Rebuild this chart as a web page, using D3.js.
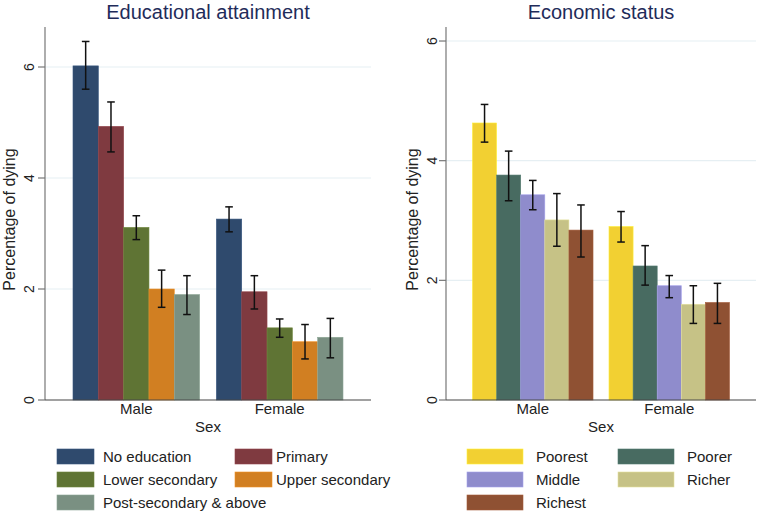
<!DOCTYPE html>
<html>
<head>
<meta charset="utf-8">
<script src="https://cdn.jsdelivr.net/npm/d3@7"></script>
<style>
  body { margin: 0; background: #fff; }
  svg { display: block; font-family: "Liberation Sans", Arial, sans-serif; }
</style>
</head>
<body>
<div id="chart"></div>
<script>
//data to display
const sexes = ['Male', 'Female'];

const eduLevels = ['No education', 'Primary', 'Lower secondary', 'Upper secondary', 'Post-secondary & above'];
const eduMale = [6.02, 4.93, 3.11, 2.00, 1.90];
const eduMaleLo = [5.60, 4.47, 2.89, 1.67, 1.54];
const eduMaleHi = [6.46, 5.37, 3.32, 2.34, 2.24];
const eduFemale = [3.26, 1.95, 1.30, 1.05, 1.13];
const eduFemaleLo = [3.03, 1.64, 1.13, 0.74, 0.76];
const eduFemaleHi = [3.48, 2.24, 1.46, 1.36, 1.47];

const ecoLevels = ['Poorest', 'Poorer', 'Middle', 'Richer', 'Richest'];
const ecoMale = [4.63, 3.76, 3.43, 3.01, 2.84];
const ecoMaleLo = [4.31, 3.33, 3.18, 2.57, 2.39];
const ecoMaleHi = [4.94, 4.16, 3.67, 3.45, 3.26];
const ecoFemale = [2.90, 2.24, 1.91, 1.60, 1.63];
const ecoFemaleLo = [2.64, 1.92, 1.71, 1.28, 1.28];
const ecoFemaleHi = [3.15, 2.58, 2.08, 1.91, 1.95];

const yTicks = [0, 2, 4, 6];

//Colors
const eduColors = ['#2f4a6d', '#7f3a40', '#5f7434', '#d17f22', '#7a9082'];
const ecoColors = ['#f2d032', '#486b61', '#8f8ccc', '#c6c286', '#8f5133'];
const titleColor = '#1f2c5a';
const gridColor = '#e6eff3';

//Main SVG
const svg = d3.select('#chart').append('svg')
    .attr('width', 761)
    .attr('height', 516);

drawPanel({
    title: 'Educational attainment',
    levels: eduLevels, colors: eduColors,
    vals: [eduMale, eduFemale], lo: [eduMaleLo, eduFemaleLo], hi: [eduMaleHi, eduFemaleHi],
    x0: 45, x1: 371, yTop: 400 - 6.6 * 55.5, yMax: 6.6,
    outer: 28, labelX: 9, tickX: 29,
    legend: {rectX: [57, 235], rectW: 37, textX: [103, 276]}
});

drawPanel({
    title: 'Economic status',
    levels: ecoLevels, colors: ecoColors,
    vals: [ecoMale, ecoFemale], lo: [ecoMaleLo, ecoFemaleLo], hi: [ecoMaleHi, ecoFemaleHi],
    x0: 446, x1: 756, yTop: 400 - 6.25 * 59.83, yMax: 6.25,
    outer: 26.5, labelX: 412, tickX: 432,
    legend: {rectX: [467, 618], rectW: 56, textX: [536, 687]}
});

function drawPanel(p) {
    const g = svg.append('g');
    const y = d3.scaleLinear().domain([0, p.yMax]).range([400, p.yTop]);

    const x = d3.scaleBand().domain(sexes)
        .range([p.x0 + p.outer, p.x1 - p.outer])
        .paddingInner(0.117).paddingOuter(0);
    const xi = d3.scaleBand().domain(p.levels).range([0, x.bandwidth()]);

    // gridlines
    g.selectAll('.grid').data(yTicks.filter(d => d > 0)).enter().append('line')
        .attr('x1', p.x0).attr('x2', p.x1)
        .attr('y1', d => y(d)).attr('y2', d => y(d))
        .attr('stroke', gridColor).attr('stroke-width', 1.2);

    // bars
    sexes.forEach((s, si) => {
        const grp = g.append('g').attr('transform', 'translate(' + x(s) + ',0)');
        p.levels.forEach((lvl, li) => {
            grp.append('rect')
                .attr('x', xi(lvl))
                .attr('y', y(p.vals[si][li]))
                .attr('width', xi.bandwidth())
                .attr('height', y(0) - y(p.vals[si][li]))
                .attr('fill', p.colors[li])
                .attr('stroke', d3.color(p.colors[li]).brighter(0.4))
                .attr('stroke-width', 0.6);
            const cx = xi(lvl) + xi.bandwidth() / 2;
            const lo = y(p.lo[si][li]), hi = y(p.hi[si][li]);
            grp.append('line').attr('x1', cx).attr('x2', cx).attr('y1', lo).attr('y2', hi)
                .attr('stroke', '#111').attr('stroke-width', 1.5);
            [lo, hi].forEach(v => grp.append('line')
                .attr('x1', cx - 3.8).attr('x2', cx + 3.8).attr('y1', v).attr('y2', v)
                .attr('stroke', '#111').attr('stroke-width', 1.5));
        });
    });

    // y axis
    g.append('line').attr('x1', p.x0).attr('x2', p.x0).attr('y1', 27).attr('y2', 400)
        .attr('stroke', '#777').attr('stroke-width', 1.2);
    yTicks.forEach(t => {
        g.append('line').attr('x1', p.x0 - 7).attr('x2', p.x0).attr('y1', y(t)).attr('y2', y(t))
            .attr('stroke', '#777').attr('stroke-width', 1.2);
        g.append('text').text(t)
            .attr('transform', 'translate(' + (p.tickX + 5) + ',' + y(t) + ') rotate(-90)')
            .attr('text-anchor', 'middle')
            .attr('font-size', 14).attr('fill', '#222');
    });
    g.append('text').text('Percentage of dying')
        .attr('transform', 'translate(' + (p.labelX + 6) + ',' + ((27 + 400) / 2 + 6) + ') rotate(-90)')
        .attr('text-anchor', 'middle')
        .attr('font-size', 16).attr('fill', '#222');

    // x axis
    g.append('line').attr('x1', p.x0).attr('x2', p.x1).attr('y1', 400).attr('y2', 400)
        .attr('stroke', '#444').attr('stroke-width', 1.2);
    sexes.forEach(s => {
        g.append('text').text(s)
            .attr('x', x(s) + x.bandwidth() / 2).attr('y', 414)
            .attr('text-anchor', 'middle').attr('font-size', 15).attr('fill', '#222');
    });
    g.append('text').text('Sex')
        .attr('x', (p.x0 + p.x1) / 2).attr('y', 432)
        .attr('text-anchor', 'middle').attr('font-size', 15).attr('fill', '#222');

    // title
    g.append('text').text(p.title)
        .attr('x', (p.x0 + p.x1) / 2).attr('y', 19)
        .attr('text-anchor', 'middle').attr('font-size', 20).attr('fill', titleColor);

    // legend
    const rowY = [449, 472, 495];
    p.levels.forEach((lvl, i) => {
        const col = i % 2, row = Math.floor(i / 2);
        g.append('rect')
            .attr('x', p.legend.rectX[col]).attr('y', rowY[row])
            .attr('width', p.legend.rectW).attr('height', 15)
            .attr('fill', p.colors[i])
            .attr('stroke', d3.color(p.colors[i]).brighter(0.4)).attr('stroke-width', 0.6);
        g.append('text').text(lvl)
            .attr('x', p.legend.textX[col]).attr('y', rowY[row] + 13)
            .attr('font-size', 15).attr('fill', '#222');
    });
}
</script>
</body>
</html>
